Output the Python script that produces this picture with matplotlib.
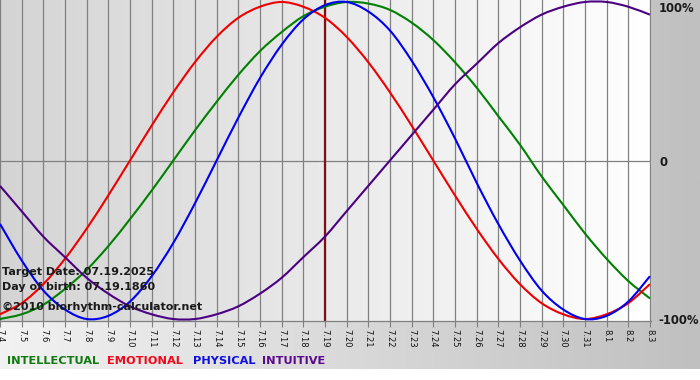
import numpy as np
import matplotlib
matplotlib.use("Agg")
import matplotlib.pyplot as plt
from matplotlib.colors import LinearSegmentedColormap
from matplotlib.path import Path
from matplotlib.patches import PathPatch

# ---- data ----
tick_labels = ["7.4", "7.5", "7.6", "7.7", "7.8", "7.9", "7.10", "7.11", "7.12", "7.13",
               "7.14", "7.15", "7.16", "7.17", "7.18", "7.19", "7.20", "7.21", "7.22", "7.23",
               "7.24", "7.25", "7.26", "7.27", "7.28", "7.29", "7.30", "7.31", "8.1", "8.2", "8.3"]
intellectual = [-1.00, -0.97, -0.91, -0.81, -0.69, -0.54, -0.37, -0.19, 0.00, 0.19,
                0.37, 0.54, 0.69, 0.81, 0.91, 0.97, 1.00, 0.99, 0.95, 0.87,
                0.76, 0.62, 0.46, 0.28, 0.10, -0.10, -0.28, -0.46, -0.62, -0.76, -0.87]
emotional = [-0.97, -0.90, -0.78, -0.62, -0.43, -0.22, 0.00, 0.22, 0.43, 0.62,
             0.78, 0.90, 0.97, 1.00, 0.97, 0.90, 0.78, 0.62, 0.43, 0.22,
             0.00, -0.22, -0.43, -0.62, -0.78, -0.90, -0.97, -1.00, -0.97, -0.90, -0.78]
physical = [-0.40, -0.63, -0.82, -0.94, -1.00, -0.98, -0.89, -0.73, -0.52, -0.27,
            0.00, 0.27, 0.52, 0.73, 0.89, 0.98, 1.00, 0.94, 0.82, 0.63,
            0.40, 0.14, -0.14, -0.40, -0.63, -0.82, -0.94, -1.00, -0.98, -0.89, -0.73]
intuitive = [-0.16, -0.32, -0.48, -0.61, -0.74, -0.84, -0.92, -0.97, -1.00, -1.00,
             -0.97, -0.92, -0.84, -0.74, -0.61, -0.48, -0.32, -0.16, 0.00, 0.16,
             0.32, 0.48, 0.61, 0.74, 0.84, 0.92, 0.97, 1.00, 1.00, 0.97, 0.92]
target_index = 15
series_names = ["INTELLECTUAL", "EMOTIONAL", "PHYSICAL", "INTUITIVE"]
info_lines = ["Target Date: 07.19.2025", "Day of birth: 07.19.1860", "\u00a92010 biorhythm-calculator.net"]
y_labels = ["100%", "0", "-100%"]

# ---- styling ----
W, H = 700, 380
colors = {"INTELLECTUAL": "#008000", "EMOTIONAL": "#ee0000",
          "PHYSICAL": "#0000ee", "INTUITIVE": "#4b0082"}
text_colors = {"INTELLECTUAL": "#107a10", "EMOTIONAL": "#ee0a1a",
               "PHYSICAL": "#1010dd", "INTUITIVE": "#5a0a8a"}

plt.rcParams['font.family'] = ['DejaVu Sans']
fig = plt.figure(figsize=(W / 100, H / 100), dpi=100)
fig.patch.set_facecolor("white")

def px(x, y):
    return x / W, 1 - y / H

def smooth_path(xs, ys):
    """Cubic Bezier path passing through every data point (Catmull-Rom tangents)."""
    pts = np.column_stack([xs, ys]).astype(float)
    ext = np.vstack([pts[0], pts, pts[-1]])
    verts = [pts[0]]
    codes = [Path.MOVETO]
    for i in range(len(pts) - 1):
        p0, p1, p2, p3 = ext[i], ext[i + 1], ext[i + 2], ext[i + 3]
        verts += [p1 + (p2 - p0) / 6.0, p2 - (p3 - p1) / 6.0, p2]
        codes += [Path.CURVE4] * 3
    return Path(verts, codes)

# figure background gradient (top 369 px)
bg = fig.add_axes([0, 1 - 369 / H, 1, 369 / H], zorder=0)
bg_cmap = LinearSegmentedColormap.from_list("bg", ["#f2f2f2", "#c0c0c0"])
bg.imshow(np.linspace(0, 1, 256)[None, :], aspect="auto", cmap=bg_cmap,
          extent=[0, 1, 0, 1], interpolation="bilinear")
bg.set_axis_off()

# main plot
ax_l, ax_t, ax_r, ax_b = 0, 0, 651, 321
ax = fig.add_axes([ax_l / W, 1 - ax_b / H, (ax_r - ax_l) / W, (ax_b - ax_t) / H], zorder=1)
n = len(tick_labels)
x = np.arange(n)
xmin, xmax = 0, 30.05
ymin, ymax = -1.0125, 1.0125
pl_cmap = LinearSegmentedColormap.from_list("pl", ["#d4d4d4", "#ffffff"])
ax.imshow(np.linspace(0, 1, 256)[None, :], aspect="auto", cmap=pl_cmap,
          extent=[xmin, xmax, ymin, ymax], interpolation="bilinear", zorder=0)
ax.set_xlim(xmin, xmax)
ax.set_ylim(ymin, ymax)

for xi in x:
    ax.axvline(xi, color="#808080", lw=0.9, zorder=1)
ax.axhline(0, color="#808080", lw=0.9, zorder=1)

ax.axvline(target_index, color="#801010", lw=1.6, zorder=2)

for name, vals in zip(series_names, [intellectual, emotional, physical, intuitive]):
    patch = PathPatch(smooth_path(x, vals), facecolor="none", edgecolor=colors[name],
                      lw=1.5, zorder=3, transform=ax.transData)
    ax.add_patch(patch)

ax.set_xticks(x)
ax.set_xticklabels(tick_labels, rotation=270, fontsize=6, color="#111111")
ax.tick_params(axis="x", length=4, width=0.8, color="#808080", pad=1.5)
ax.set_yticks([])
for s in ["top", "left", "right"]:
    ax.spines[s].set_visible(False)
ax.spines["bottom"].set_color("#808080")
ax.spines["bottom"].set_linewidth(0.9)

# info texts
for (ty, t) in zip([272, 287, 307], info_lines):
    fig.text(*px(2, ty), t, fontsize=8.0, fontweight="bold", color="#1a1a1a",
             va="center", ha="left", zorder=5)

# right axis labels
for (ty, t), xx in zip(zip([8, 162, 321], y_labels), [659, 659, 658]):
    fig.text(*px(xx, ty), t, fontsize=8.4, fontweight="bold", color="#1a1a1a",
             va="center", ha="left", zorder=5)

# legend texts
for name, lx in zip(series_names, [7, 107, 193, 262]):
    fig.text(*px(lx, 361), name, fontsize=8.2, fontweight="bold",
             color=text_colors[name], va="center", ha="left", zorder=5)

fig.savefig("out.png", dpi=100)
